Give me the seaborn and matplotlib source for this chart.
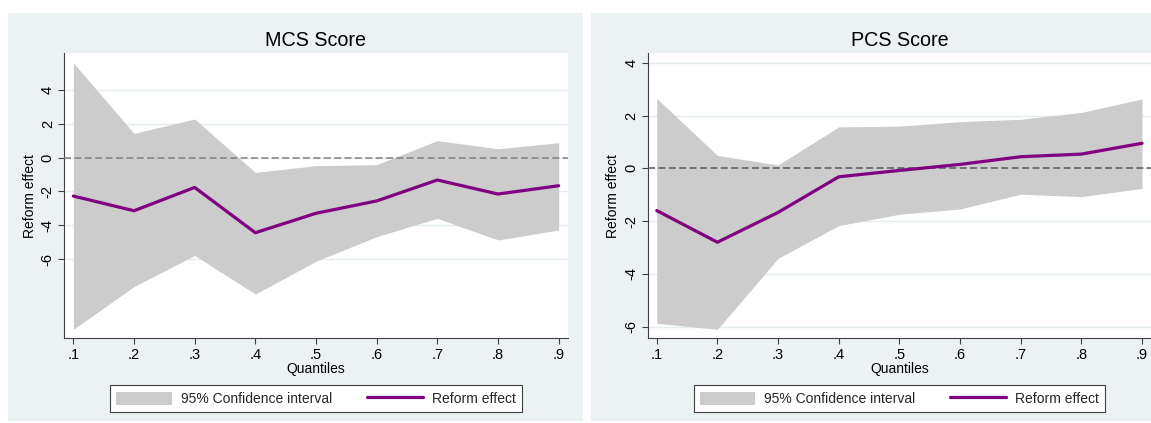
import numpy as np
import pandas as pd
import matplotlib
matplotlib.use("Agg")
import matplotlib.pyplot as plt
from matplotlib.patches import Rectangle, Patch
from matplotlib.lines import Line2D
import seaborn as sns

# ---- data ----
quantiles = [0.1, 0.2, 0.3, 0.4, 0.5, 0.6, 0.7, 0.8, 0.9]
quantile_labels = [".1", ".2", ".3", ".4", ".5", ".6", ".7", ".8", ".9"]

mcs_effect = [-2.27, -3.14, -1.76, -4.44, -3.29, -2.56, -1.32, -2.15, -1.66]
mcs_upper = [5.62, 1.44, 2.29, -0.87, -0.47, -0.41, 1.01, 0.53, 0.89]
mcs_lower = [-10.16, -7.63, -5.78, -8.07, -6.13, -4.67, -3.59, -4.87, -4.28]

pcs_effect = [-1.60, -2.80, -1.67, -0.32, -0.08, 0.15, 0.44, 0.54, 0.95]
pcs_upper = [2.65, 0.49, 0.13, 1.57, 1.60, 1.77, 1.86, 2.12, 2.63]
pcs_lower = [-5.87, -6.10, -3.41, -2.17, -1.74, -1.54, -0.98, -1.07, -0.76]

ytick_values = [-6, -4, -2, 0, 2, 4]
ytick_labels = ["-6", "-4", "-2", "0", "2", "4"]

titles = ["MCS Score", "PCS Score"]

# ---- style ----
sns.set_theme(style="white")
plt.rcParams["font.family"] = ["Liberation Sans", "DejaVu Sans"]
plt.rcParams["axes.unicode_minus"] = False

PANEL_BG = "#eaf2f3"
GRID = "#e3ecee"
CI_COLOR = "#cccccc"
LINE_COLOR = "#800080"
AXIS_COLOR = "#404040"

W, H = 1151, 423
fig = plt.figure(figsize=(W / 100, H / 100), dpi=100, facecolor="white")


def rect(x0, y0, x1, y1):
    """Pixel box (top-left origin) -> figure-fraction [left, bottom, width, height]."""
    return [x0 / W, 1 - y1 / H, (x1 - x0) / W, (y1 - y0) / H]


# graph-region backgrounds
for x0, x1 in [(8, 582.7), (591, 1166)]:
    l, b, w, h = rect(x0, 13, x1, 421)
    fig.add_artist(Rectangle((l, b), w, h, transform=fig.transFigure,
                             facecolor=PANEL_BG, edgecolor="none", zorder=-5))

panels = [
    dict(x0=64.3, effect=mcs_effect, upper=mcs_upper, lower=mcs_lower,
         ylim=(-10.69, 6.18), title=titles[0], zero="#808080"),
    dict(x0=647.7, effect=pcs_effect, upper=pcs_upper, lower=pcs_lower,
         ylim=(-6.44, 4.36), title=titles[1], zero="#5a5a5a"),
]

for p in panels:
    ax = fig.add_axes(rect(p["x0"], 53.3, p["x0"] + 503.4, 338.3))
    ax.set_facecolor("white")

    df = pd.DataFrame({"quantile": quantiles, "effect": p["effect"],
                       "upper": p["upper"], "lower": p["lower"]})

    ax.fill_between(df["quantile"], df["lower"], df["upper"],
                    color=CI_COLOR, linewidth=0, zorder=2)
    ax.axhline(0, color=p["zero"], lw=1.1, ls=(0, (4.6, 2.2)), zorder=3)
    sns.lineplot(data=df, x="quantile", y="effect", ax=ax, color=LINE_COLOR,
                 lw=2.3, zorder=4, legend=False)

    ax.set_xlim(0.0851, 0.9149)
    ax.set_ylim(*p["ylim"])
    ax.set_xticks(quantiles)
    ax.set_xticklabels(quantile_labels)
    ax.set_yticks(ytick_values)
    ax.set_yticklabels(ytick_labels, rotation=90, va="center")

    ax.yaxis.grid(True, color=GRID, lw=1.0, zorder=1)
    ax.xaxis.grid(False)
    ax.set_axisbelow(True)

    for side in ["top", "right"]:
        ax.spines[side].set_visible(False)
    for side in ["left", "bottom"]:
        ax.spines[side].set_color(AXIS_COLOR)
        ax.spines[side].set_linewidth(0.8)

    ax.tick_params(axis="both", direction="out", length=4.3, width=0.8,
                   color=AXIS_COLOR, labelsize=10.5, labelcolor="black",
                   bottom=True, left=True)
    ax.tick_params(axis="x", pad=2.5)
    ax.tick_params(axis="y", pad=2.5)

    ax.set_xlabel("Quantiles", fontsize=10, labelpad=0, color="black")
    ax.set_ylabel("Reform effect", fontsize=10, labelpad=3, color="black")
    ax.set_title(p["title"], fontsize=14.2, pad=5, color="black")

    handles = [Patch(facecolor=CI_COLOR, edgecolor="none"),
               Line2D([0], [0], color=LINE_COLOR, lw=2.3)]
    leg = ax.legend(handles, ["95% Confidence interval", "Reform effect"],
                    loc="upper center", bbox_to_anchor=(0.5, -0.165),
                    ncol=2, frameon=True, fancybox=False, framealpha=1,
                    edgecolor=AXIS_COLOR, facecolor="white", fontsize=10,
                    handlelength=4.0, handleheight=1.08, handletextpad=0.65,
                    columnspacing=2.5, borderpad=0.45, borderaxespad=0)
    leg.get_frame().set_linewidth(0.8)

fig.savefig("out.png", dpi=100, facecolor="white")
